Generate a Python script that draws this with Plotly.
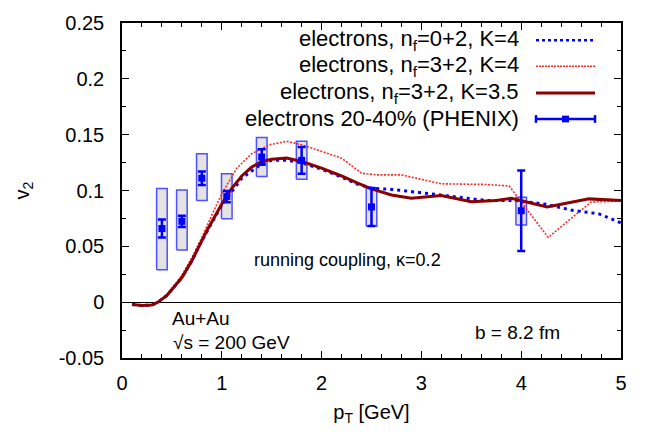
import plotly.graph_objects as go

# ---------------- data ----------------
pt_k35 = [0.1, 0.2, 0.3, 0.36, 0.45, 0.55, 0.6, 0.7, 0.77, 0.85, 1.0, 1.1, 1.2, 1.3, 1.4, 1.5, 1.65,
          1.8, 2.0, 2.2, 2.35, 2.5, 2.7, 2.9, 3.2, 3.5, 3.75, 3.9, 4.26, 4.68, 5.0]
v2_k35 = [-0.002, -0.003, -0.0025, 0.0, 0.006, 0.016, 0.022, 0.037, 0.05, 0.064, 0.088, 0.102, 0.113,
          0.121, 0.126, 0.128, 0.129, 0.126, 0.120, 0.113, 0.107, 0.1015, 0.096, 0.093, 0.0955, 0.090,
          0.091, 0.093, 0.0853, 0.0925, 0.091]

pt_nf02 = [0.1, 0.2, 0.3, 0.36, 0.45, 0.55, 0.6, 0.7, 0.77, 0.85, 1.0, 1.2, 1.4, 1.5, 1.65, 1.8, 2.0,
           2.2, 2.35, 2.5, 2.7, 3.0, 3.3, 3.65, 3.95, 4.25, 4.5, 4.78, 5.0]
v2_nf02 = [-0.002, -0.003, -0.0025, 0.0, 0.006, 0.016, 0.022, 0.037, 0.05, 0.063, 0.087, 0.111, 0.124,
           0.127, 0.127, 0.125, 0.119, 0.112, 0.106, 0.102, 0.101, 0.098, 0.095, 0.091, 0.091, 0.0876,
           0.0825, 0.079, 0.071]

pt_nf32 = [0.1, 0.2, 0.3, 0.36, 0.45, 0.55, 0.6, 0.7, 0.8, 0.9, 1.0, 1.15, 1.3, 1.48, 1.65, 1.8, 2.0,
           2.2, 2.4, 2.55, 2.8, 3.0, 3.2, 3.65, 3.88, 4.27, 4.7, 5.0]
v2_nf32 = [-0.002, -0.003, -0.0025, 0.0, 0.007, 0.018, 0.024, 0.04, 0.058, 0.078, 0.097, 0.12, 0.133,
           0.141, 0.144, 0.141, 0.135, 0.129, 0.1155, 0.114, 0.114, 0.11, 0.106, 0.1054, 0.104, 0.058,
           0.0897, 0.0905]

phenix_pt = [0.4, 0.6, 0.8, 1.05, 1.4, 1.8, 2.5, 4.0]
phenix_v2 = [0.066, 0.0724, 0.111, 0.0945, 0.130, 0.127, 0.0853, 0.0819]
phenix_stat = [0.008, 0.005, 0.006, 0.005, 0.007, 0.012, 0.017, 0.036]
phenix_sys_lo = [0.029, 0.0467, 0.091, 0.0747, 0.1125, 0.110, 0.068, 0.069]
phenix_sys_hi = [0.1017, 0.1005, 0.133, 0.115, 0.1475, 0.144, 0.1025, 0.094]
box_halfwidth = 0.053

y_tickvals = [-0.05, 0, 0.05, 0.1, 0.15, 0.2, 0.25]
y_ticktext = ["-0.05", "0", "0.05", "0.1", "0.15", "0.2", "0.25"]

legend_labels = [
    "electrons, n<sub>f</sub>=0+2, K=4",
    "electrons, n<sub>f</sub>=3+2, K=4",
    "electrons, n<sub>f</sub>=3+2, K=3.5",
    "electrons 20-40% (PHENIX)",
]

FONT = "Liberation Sans, Arial, sans-serif"
BLUE = "#0000ff"
RED = "#ff2a2a"
DARKRED = "#8b0000"

fig = go.Figure()

# systematic boxes
bx, by = [], []
for p, lo, hi in zip(phenix_pt, phenix_sys_lo, phenix_sys_hi):
    bx += [p - box_halfwidth, p + box_halfwidth, p + box_halfwidth, p - box_halfwidth, p - box_halfwidth, None]
    by += [lo, lo, hi, hi, lo, None]
fig.add_trace(go.Scatter(x=bx, y=by, mode="lines", fill="toself", fillcolor="#e3e3e3",
                         line=dict(color="rgba(50,50,255,0.85)", width=1.5), hoverinfo="skip",
                         showlegend=False))

fig.add_trace(go.Scatter(x=pt_nf32, y=v2_nf32, mode="lines",
                         line=dict(color=RED, width=1.6, dash="2px,1.5px"), showlegend=False))
fig.add_trace(go.Scatter(x=pt_nf02, y=v2_nf02, mode="lines",
                         line=dict(color=BLUE, width=3, dash="3px,4px"), showlegend=False))
fig.add_trace(go.Scatter(x=pt_k35, y=v2_k35, mode="lines",
                         line=dict(color=DARKRED, width=3), showlegend=False))

fig.add_trace(go.Scatter(x=phenix_pt, y=phenix_v2, mode="markers",
                         marker=dict(symbol="square", size=7, color=BLUE),
                         error_y=dict(type="data", array=phenix_stat, color=BLUE, thickness=2.5, width=4),
                         showlegend=False))

# ---------- manual legend (symbol on right, text right-aligned) ----------
X0, W = 122, 499
Y0, H = 15, 349
def px(x):
    return (x - X0) / W
def py(y):
    return (Y0 + H - y) / H

leg_y = [33, 60, 88, 115]
annotations = []
shapes = []
for lab, yy in zip(legend_labels, leg_y):
    annotations.append(dict(x=px(521), y=py(yy), xref="paper", yref="paper", text=lab,
                            showarrow=False, xanchor="right", yanchor="middle",
                            font=dict(family=FONT, size=22, color="black")))
sx0, sx1 = px(536), px(595)
shapes.append(dict(type="line", xref="paper", yref="paper", x0=sx0, x1=sx1, y0=py(leg_y[0]), y1=py(leg_y[0]),
                   line=dict(color=BLUE, width=2.5, dash="3px,3px")))
shapes.append(dict(type="line", xref="paper", yref="paper", x0=sx0, x1=sx1, y0=py(leg_y[1]), y1=py(leg_y[1]),
                   line=dict(color=RED, width=1.6, dash="2px,1px")))
shapes.append(dict(type="line", xref="paper", yref="paper", x0=sx0, x1=sx1, y0=py(leg_y[2]), y1=py(leg_y[2]),
                   line=dict(color=DARKRED, width=3)))
shapes.append(dict(type="line", xref="paper", yref="paper", x0=sx0, x1=sx1, y0=py(leg_y[3]), y1=py(leg_y[3]),
                   line=dict(color=BLUE, width=2.5)))
for xx in (536, 595):
    shapes.append(dict(type="line", xref="paper", yref="paper", x0=px(xx), x1=px(xx),
                       y0=py(leg_y[3] - 4), y1=py(leg_y[3] + 4), line=dict(color=BLUE, width=2.5)))
shapes.append(dict(type="rect", xref="paper", yref="paper", x0=px(562), x1=px(569),
                   y0=py(leg_y[3] - 3.5), y1=py(leg_y[3] + 3.5), fillcolor=BLUE, line=dict(width=0)))

for txt, xx, yy, sz in [("running coupling, κ=0.2", 252, 262, 18),
                        ("Au+Au", 170, 323, 19),
                        ("√s = 200 GeV", 171, 348, 19),
                        ("b = 8.2 fm", 473, 337, 19)]:
    annotations.append(dict(x=px(xx), y=py(yy), xref="paper", yref="paper", text=txt, showarrow=False,
                            xanchor="left", yanchor="middle", font=dict(family=FONT, size=sz, color="black")))

fig.update_layout(
    width=647, height=432,
    margin=dict(l=122, r=26, t=15, b=68),
    paper_bgcolor="white", plot_bgcolor="white",
    font=dict(family=FONT, size=20, color="black"),
    annotations=annotations, shapes=shapes,
    showlegend=False,
)
fig.update_xaxes(range=[0, 5], dtick=1, tick0=0, showgrid=False, zeroline=False,
                 showline=True, linecolor="black", linewidth=1.5, mirror="allticks",
                 ticks="inside", ticklen=7, tickwidth=1, tickcolor="black",
                 minor=dict(dtick=0.2, tick0=0, ticks="inside", ticklen=4, tickcolor="black"),
                 tickfont=dict(family=FONT, size=20), ticklabelstandoff=6,
                 title=dict(text="p<sub>T</sub> [GeV]", font=dict(family=FONT, size=20), standoff=12))
fig.update_yaxes(range=[-0.05, 0.25], tickmode="array", tickvals=y_tickvals, ticktext=y_ticktext,
                 showgrid=False,
                 zeroline=True, zerolinecolor="black", zerolinewidth=1,
                 showline=True, linecolor="black", linewidth=1.5, mirror="allticks",
                 ticks="inside", ticklen=7, tickwidth=1, tickcolor="black",
                 minor=dict(tickmode="linear", tick0=0, dtick=0.025, ticks="inside", ticklen=4,
                            tickcolor="black"),
                 tickfont=dict(family=FONT, size=20), ticklabelstandoff=12,
                 title=dict(text="v<sub>2</sub>", font=dict(family=FONT, size=20), standoff=24))

fig.write_html("out.html")
